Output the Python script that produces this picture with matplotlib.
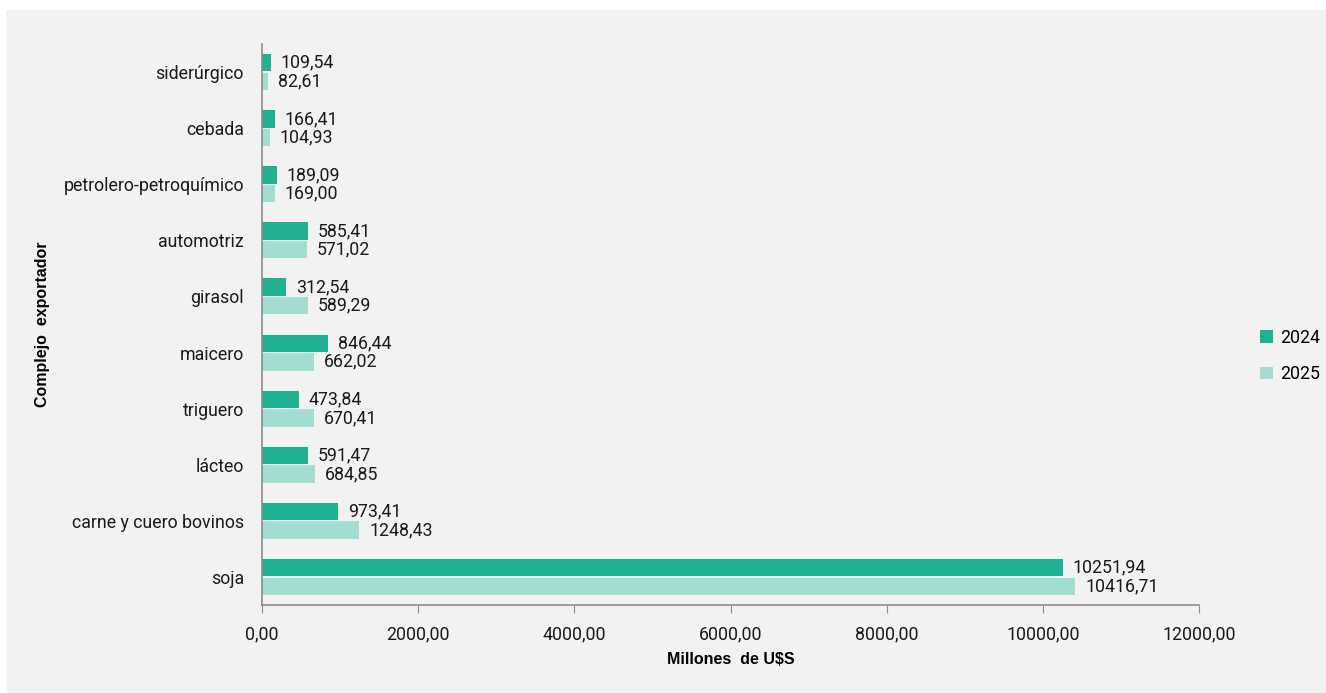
import matplotlib.pyplot as plt
import matplotlib.patches as mpatches
import numpy as np

categorias = ['soja', 'carne y cuero bovinos', 'lácteo', 'triguero', 'maicero',
              'girasol', 'automotriz', 'petrolero-petroquímico', 'cebada', 'siderúrgico']
v2024 = [10251.94, 973.41, 591.47, 473.84, 846.44, 312.54, 585.41, 189.09, 166.41, 109.54]
v2025 = [10416.71, 1248.43, 684.85, 670.41, 662.02, 589.29, 571.02, 169.00, 104.93, 82.61]
xticks = [0, 2000, 4000, 6000, 8000, 10000, 12000]

c2024 = '#1eb08f'
c2025 = '#a3ddd2'
bg = '#f2f2f2'
fs = 12.8

plt.rcParams['font.family'] = ['Roboto', 'DejaVu Sans']

fig = plt.figure(figsize=(13.26, 6.93), dpi=100)
fig.patch.set_facecolor('white')
fig.patches.append(mpatches.Rectangle((6 / 1326, 0), 1, 1 - 10 / 693,
                                      transform=fig.transFigure, facecolor=bg,
                                      edgecolor='none', zorder=-10))

ax = fig.add_axes([262 / 1326, 1 - 605 / 693, (1199 - 262) / 1326, (605 - 44) / 693])
ax.set_facecolor(bg)

y = np.arange(len(categorias))
h = 0.31
ax.barh(y + 0.165, v2024, height=h, color=c2024, label='2024')
ax.barh(y - 0.165, v2025, height=h, color=c2025, label='2025')


def fmt(v):
    return f'{v:.2f}'.replace('.', ',')


for yi, a, b in zip(y, v2024, v2025):
    ax.annotate(fmt(a), (a, yi + 0.165), xytext=(7, 0), textcoords='offset points',
                va='center', ha='left', fontsize=fs, color='#1a1a1a')
    ax.annotate(fmt(b), (b, yi - 0.165), xytext=(7, 0), textcoords='offset points',
                va='center', ha='left', fontsize=fs, color='#1a1a1a')

ax.set_ylim(-0.5, len(categorias) - 0.5)
ax.set_xlim(0, 12000)
ax.set_xticks(xticks)
ax.set_xticklabels([fmt(v) for v in xticks], fontsize=fs, color='#1a1a1a')
ax.set_yticks(y)
ax.set_yticklabels(categorias, fontsize=fs, color='#1a1a1a')
ax.tick_params(axis='y', length=0, pad=13)
ax.tick_params(axis='x', length=6, color='#8c8c8c', pad=9)
for s in ['top', 'right']:
    ax.spines[s].set_visible(False)
for s in ['left', 'bottom']:
    ax.spines[s].set_color('#8c8c8c')
    ax.spines[s].set_linewidth(1.2)

ax.set_xlabel('Millones  de U$S', fontsize=11.5, fontweight='bold',
              family=['Liberation Sans', 'DejaVu Sans'], labelpad=6)
ax.yaxis.set_label_coords(-212 / 937, 0.5)
ax.set_ylabel('Complejo  exportador', fontsize=11.5, fontweight='bold',
              family=['Liberation Sans', 'DejaVu Sans'])

leg = fig.legend(loc='center left', bbox_to_anchor=(1253 / 1326, 1 - 356 / 693),
                 frameon=False, fontsize=fs, handlelength=0.7, handleheight=0.7,
                 handletextpad=0.4, labelspacing=1.05, borderaxespad=0)

fig.savefig('out.png', dpi=100, facecolor=fig.get_facecolor())
